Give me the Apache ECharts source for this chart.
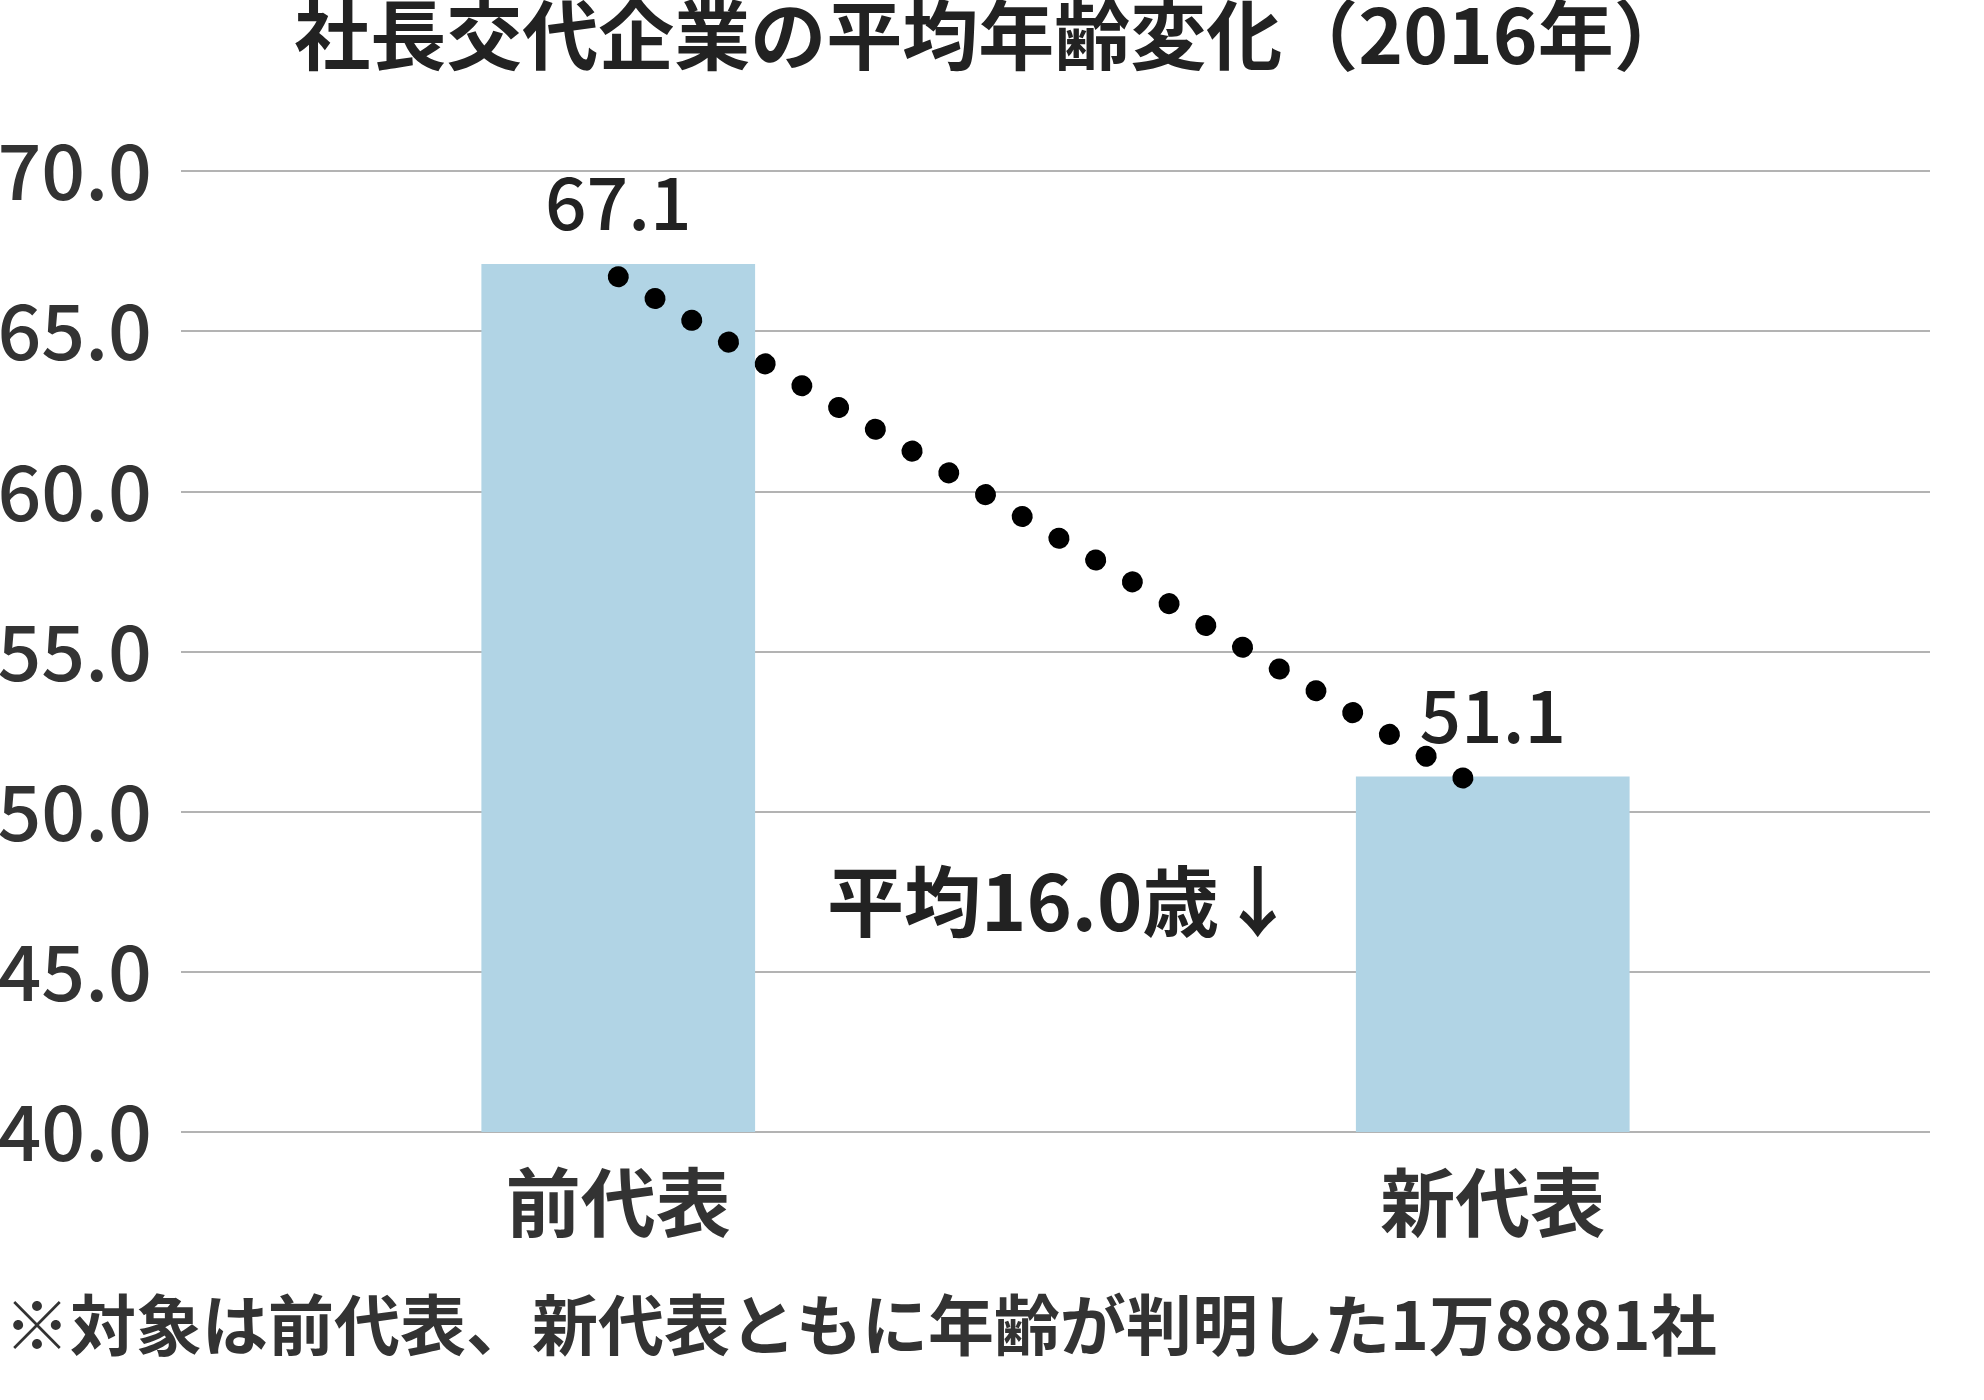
<!DOCTYPE html>
<html>
<head>
<meta charset="utf-8">
<script src="https://cdn.jsdelivr.net/npm/echarts@6/dist/echarts.min.js"></script>
<style>
html, body { margin: 0; padding: 0; background: #fff; }
#main { width: 1984px; height: 1400px; }
</style>
</head>
<body>
<div id="main"></div>
<script>
var categories = ['前代表', '新代表'];
var ages = [67.1, 51.1];
var yMin = 40, yMax = 70, yStep = 5;
// dotted drop line, in data units (x: category index, y: age)
var trendX = [0, 0.969];
var trendY = [66.7, 51.0];
var titleText = '社長交代企業の平均年齢変化（2016年）';
var noteText = '平均16.0歳↓';
var footText = '※対象は前代表、新代表ともに年齢が判明した1万8881社';

var font = '"Noto Sans CJK JP", "Noto Sans", sans-serif';
var chart = echarts.init(document.getElementById('main'));

var trendData = trendX.map(function (x, i) { return [x, trendY[i]]; });

chart.setOption({
    backgroundColor: '#fff',
    animation: false,
    title: {
        text: titleText,
        left: 'center',
        top: -3,
        padding: 0,
        textStyle: { fontFamily: font, fontSize: 76, fontWeight: 'bold', color: '#222' }
    },
    grid: { left: 181, right: 54, top: 171, bottom: 268, containLabel: false, outerBoundsMode: 'none' },
    xAxis: [{
        type: 'category',
        data: categories,
        axisLine: { show: false },
        axisTick: { show: false },
        axisLabel: { margin: 33, fontFamily: font, fontSize: 75, fontWeight: 'bold', color: '#333' }
    }, {
        type: 'value',
        min: -0.5,
        max: 1.5,
        show: false
    }],
    yAxis: {
        type: 'value',
        min: yMin,
        max: yMax,
        interval: yStep,
        axisLine: { show: false },
        axisTick: { show: false },
        splitLine: { lineStyle: { color: '#b3b3b3', width: 2 } },
        axisLabel: {
            margin: 29,
            fontFamily: font,
            fontSize: 77,
            fontWeight: 500,
            color: '#333',
            formatter: function (v) { return v.toFixed(1); }
        }
    },
    series: [{
        name: '平均年齢',
        type: 'bar',
        data: ages,
        barWidth: '31.3%',
        itemStyle: { color: '#b1d4e5' },
        label: {
            show: true,
            position: 'top',
            distance: 25,
            fontFamily: font,
            fontSize: 73,
            fontWeight: 500,
            color: '#222',
            formatter: function (p) { return p.value.toFixed(1); }
        }
    }, {
        type: 'line',
        xAxisIndex: 1,
        data: trendData,
        symbol: 'none',
        silent: true,
        lineStyle: { color: '#000', width: 21, type: [0.1, 42.6], cap: 'round' },
        z: 5
    }],
    graphic: [{
        type: 'text',
        left: 827,
        top: 863,
        style: { text: noteText, font: 'bold 77px ' + font, fill: '#222' }
    }, {
        type: 'text',
        left: 4,
        top: 1292,
        style: { text: footText, font: 'bold 66px ' + font, fill: '#333' }
    }]
});
</script>
</body>
</html>
